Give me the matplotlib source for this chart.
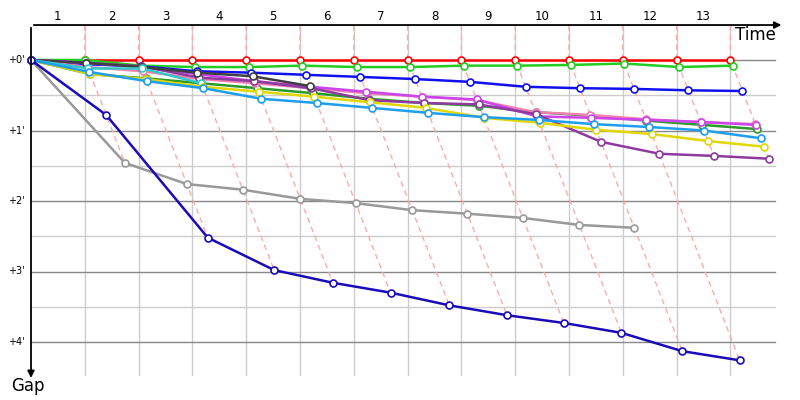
import matplotlib.pyplot as plt

# gap values per step (step k plotted on slanted time line k)
series = {
    "red":        [0, 0, 0, 0, 0, 0, 0, 0, 0, 0, 0, 0, 0, 0],
    "#22cc22":    [0, 0, 0.08, 0.1, 0.1, 0.08, 0.1, 0.1, 0.08, 0.08, 0.07, 0.05, 0.1, 0.08],
    "#1010ee":    [0, 0.06, 0.09, 0.16, 0.18, 0.21, 0.24, 0.27, 0.31, 0.38, 0.40, 0.41, 0.43, 0.44],
    "#2a9a2a":    [0, 0.2, 0.26, 0.33, 0.4, 0.47, 0.55, 0.61, 0.65, 0.74, 0.79, 0.86, 0.92, 0.98],
    "#f080b0":    [0, 0.1, 0.16, 0.27, 0.33, 0.4, 0.47, 0.52, 0.57, 0.74, 0.78, 0.84, 0.88, 0.91],
    "#cc44ee":    [0, 0.04, 0.1, 0.2, 0.3, 0.38, 0.45, 0.52, 0.56, 0.8, 0.82, 0.85, 0.88, 0.92],
    "#8e3a9e":    [0, 0.04, 0.09, 0.25, 0.3, 0.4, 0.57, 0.61, 0.63, 0.77, 1.16, 1.33, 1.36, 1.4],
    "#404040":    [0, 0.04, 0.1, 0.18, 0.23, 0.37],
    "#30c8c8":    [0, 0.12, 0.12, 0.33],
    "#e0d800":    [0, 0.2, 0.27, 0.38, 0.45, 0.52, 0.6, 0.68, 0.82, 0.89, 0.99, 1.05, 1.15, 1.23],
    "#1e9ef0":    [0, 0.17, 0.3, 0.4, 0.55, 0.61, 0.68, 0.75, 0.81, 0.85, 0.91, 0.95, 1.0, 1.11],
    "#999999":    [0, 1.46, 1.76, 1.84, 1.97, 2.03, 2.13, 2.18, 2.24, 2.34, 2.38],
    "#1a0ab8":    [0, 0.78, 2.52, 2.98, 3.16, 3.3, 3.48, 3.62, 3.73, 3.87, 4.13, 4.26],
}
time_labels = [str(i) for i in range(1, 14)]
gap_labels = ["+0'", "+1'", "+2'", "+3'", "+4'"]
slant = 0.51

fig = plt.figure(figsize=(8, 4), dpi=100)
ax = fig.add_axes([0, 0, 1, 1])
ax.set_xlim(-31 / 53.8, 769 / 53.8)
ax.set_ylim(340 / 70.5, -60 / 70.5)
ax.axis("off")

top, bottom, right = -0.496, 4.47, 13.83

for k in range(1, 14):
    ax.plot([k, k], [top, bottom], color="#cccccc", lw=1, zorder=1)
for g in [0.5, 1.5, 2.5, 3.5]:
    ax.plot([0, right], [g, g], color="#cccccc", lw=1, zorder=1)
for g in range(5):
    ax.plot([0, right], [g, g], color="#888888", lw=1, zorder=1)
    ax.text(-0.27, g, gap_labels[g], ha="center", va="center", fontsize=7)
for i, lab in enumerate(time_labels):
    ax.text(i + 0.5, -0.61, lab, ha="center", va="center", fontsize=8.5)

# slanted time lines
for k in range(1, 14):
    gmax = max(v[k] for v in series.values() if len(v) > k)
    ax.plot([k, k, k + slant * gmax], [top, 0, gmax], color="#ffaaaa",
            lw=1, ls=(0, (4, 3)), zorder=2)

for color, gaps in series.items():
    xs = [k + slant * g for k, g in enumerate(gaps)]
    ax.plot(xs, gaps, color=color, lw=1.8, marker="o", ms=5, mfc="white",
            mec=color, mew=1.2, zorder=3)

ax.annotate("", xy=(14.0, top), xytext=(0, top),
            arrowprops=dict(arrowstyle="-|>", color="black", lw=1.3))
ax.annotate("", xy=(0, 4.55), xytext=(0, top),
            arrowprops=dict(arrowstyle="-|>", color="black", lw=1.3))
ax.text(13.85, -0.35, "Time", ha="right", va="center", fontsize=12)
ax.text(-0.37, 4.63, "Gap", ha="left", va="center", fontsize=12)

fig.savefig("out.png")
